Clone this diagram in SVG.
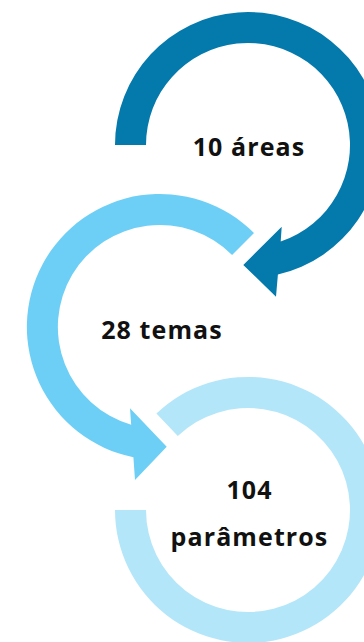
<svg xmlns="http://www.w3.org/2000/svg" width="364" height="642" viewBox="0 0 364 642">
<style>
.lbl{font-family:"Open Sans","Noto Sans",sans-serif;font-weight:700;font-size:25px;fill:#111;text-anchor:middle;letter-spacing:1.1px}
</style>
<rect width="364" height="642" fill="#fff"/>
<g id="connectors">
<path id="arrow-top" fill="#0479AC" d="M115,145 A133,133 0 1 1 277.9,274.6 L276,296.7 L243.3,265 L281.7,226.7 L280.7,241.6 A102,102 0 1 0 146,145 Z"/>
<path id="arrow-mid" fill="#6DCFF6" d="M254,233 A133,133 0 1 0 133.4,457.3 L135,480 L166.7,446.7 L130,408.3 L131.2,424.8 A102,102 0 1 1 232.1,254.9 Z"/>
<path id="arrow-bot" fill="#B4E6F9" d="M156.4,413.5 A133,133 0 1 1 115,510 L146,510 A102,102 0 1 0 177.8,436 Z"/>
</g>
<g id="node-areas"><text class="lbl" x="249" y="156">10 áreas</text></g>
<g id="node-temas"><text class="lbl" x="162" y="339">28 temas</text></g>
<g id="node-parametros"><text class="lbl" x="249.5" y="499">104</text><text class="lbl" x="249.5" y="546">parâmetros</text></g>
</svg>
